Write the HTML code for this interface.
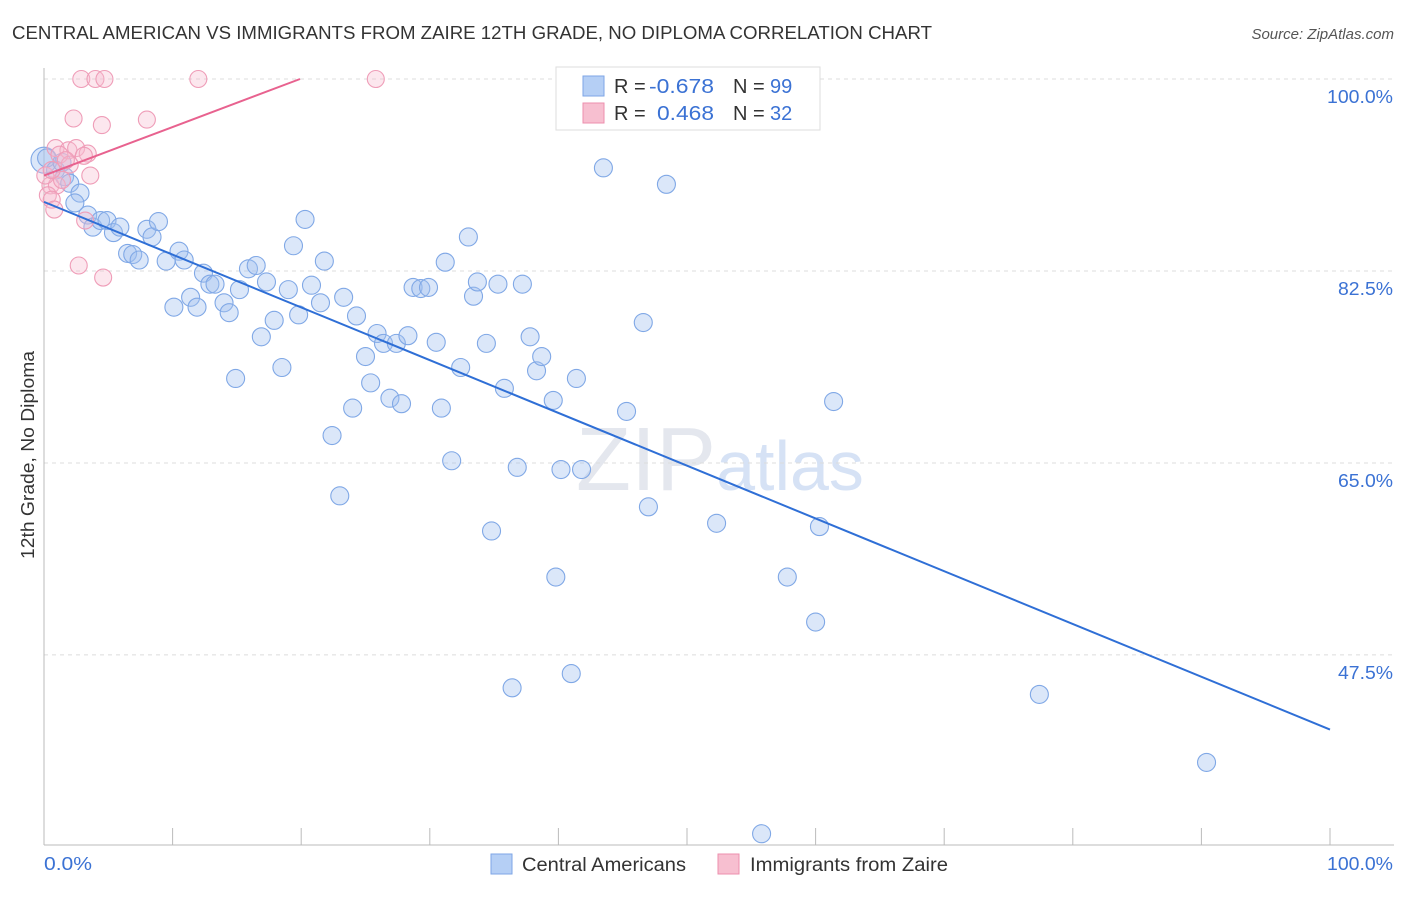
<!DOCTYPE html>
<html><head><meta charset="utf-8"><style>
body{margin:0;background:#fff;font-family:"Liberation Sans",sans-serif}
svg text{font-family:"Liberation Sans",sans-serif}
</style></head><body>
<svg id="chart" width="1406" height="892" xmlns="http://www.w3.org/2000/svg">
<text x="12" y="39" font-size="18" fill="#333" textLength="920" lengthAdjust="spacingAndGlyphs">CENTRAL AMERICAN VS IMMIGRANTS FROM ZAIRE 12TH GRADE, NO DIPLOMA CORRELATION CHART</text>
<text x="1394" y="39" font-size="15" fill="#555" text-anchor="end" font-style="italic">Source: ZipAtlas.com</text>
<text x="720" y="490" font-size="90" fill="#e4e7ee" text-anchor="middle" font-family="Liberation Serif">ZIP<tspan fill="#d6e2f5" font-family="Liberation Sans" font-size="70">atlas</tspan></text>
<g id="grid"></g>
<g id="axes"></g>
<g id="pts"></g>
<g id="lines"></g>
<text transform="translate(34,455) rotate(-90)" font-size="18" fill="#333" text-anchor="middle" textLength="208" lengthAdjust="spacingAndGlyphs">12th Grade, No Diploma</text>
<text x="44" y="870" font-size="18" fill="#3b72d4" textLength="48" lengthAdjust="spacingAndGlyphs">0.0%</text>
<text x="1327" y="870" font-size="18" fill="#3b72d4" textLength="66" lengthAdjust="spacingAndGlyphs">100.0%</text>
<g>
<rect x="556" y="67" width="264" height="63" fill="#fff" stroke="#ddd"/>
<rect x="583" y="76" width="21" height="20" fill="#b5cff5" stroke="#7ea6e6"/>
<rect x="583" y="103" width="21" height="20" fill="#f7bfd0" stroke="#ec8fae"/>
<text x="614" y="93" font-size="20" fill="#333">R = <tspan fill="#3b72d4" x="649" textLength="65" lengthAdjust="spacingAndGlyphs">-0.678</tspan><tspan x="733">N = </tspan><tspan fill="#3b72d4" x="770">99</tspan></text>
<text x="614" y="120" font-size="20" fill="#333">R = <tspan fill="#3b72d4" x="657" textLength="57" lengthAdjust="spacingAndGlyphs">0.468</tspan><tspan x="733">N = </tspan><tspan fill="#3b72d4" x="770">32</tspan></text>
</g>
<g>
<rect x="491" y="854" width="21" height="20" fill="#b5cff5" stroke="#7ea6e6"/>
<text x="522" y="871" font-size="19" fill="#333" textLength="164" lengthAdjust="spacingAndGlyphs">Central Americans</text>
<rect x="718" y="854" width="21" height="20" fill="#f7bfd0" stroke="#ec8fae"/>
<text x="750" y="871" font-size="19" fill="#333" textLength="198" lengthAdjust="spacingAndGlyphs">Immigrants from Zaire</text>
</g>
</svg>
<script>
const yTicks=[100,82.5,65,47.5];
const yTickLabels=["100.0%","82.5%","65.0%","47.5%"];
const xTicks=[0,10,20,30,40,50,60,70,80,90,100];
const blueX=[0,0.2,0.9,1.4,1.6,2.0,2.8,2.4,3.4,3.8,4.4,4.9,5.4,5.9,6.5,6.9,7.4,8.0,8.4,8.9,9.5,10.1,10.5,10.9,11.4,11.9,12.4,12.9,13.3,14.0,14.4,14.9,15.2,15.9,16.5,16.9,17.3,17.9,18.5,19.0,19.4,19.8,20.3,20.8,21.5,21.8,22.4,23.0,23.3,24.0,24.3,25.0,25.4,25.9,26.4,26.9,27.4,27.8,28.3,28.7,29.3,29.9,30.5,30.9,31.2,31.7,32.4,33.0,33.4,33.7,34.4,34.8,35.3,35.8,36.4,36.8,37.2,37.8,38.3,38.7,39.6,39.8,40.2,41.0,41.4,41.8,43.5,45.3,46.6,47.0,48.4,49.1,52.3,55.8,57.8,60.0,60.3,61.4,77.4,90.4];
const blueY=[92.6,92.8,91.7,92.4,91.1,90.5,89.6,88.7,87.6,86.5,87.1,87.1,86.0,86.5,84.1,84.0,83.5,86.3,85.6,87.0,83.4,79.2,84.3,83.5,80.1,79.2,82.3,81.3,81.3,79.6,78.7,72.7,80.8,82.7,83.0,76.5,81.5,78.0,73.7,80.8,84.8,78.5,87.2,81.2,79.6,83.4,67.5,62.0,80.1,70.0,78.4,74.7,72.3,76.8,75.9,70.9,75.9,70.4,76.6,81.0,80.9,81.0,76.0,70.0,83.3,65.2,73.7,85.6,80.2,81.5,75.9,58.8,81.3,71.8,44.5,64.6,81.3,76.5,73.4,74.7,70.7,54.6,64.4,45.8,72.7,64.4,91.9,69.7,77.8,61.0,90.4,100,59.5,31.2,54.6,50.5,59.2,70.6,43.9,37.7];
const pinkX=[2.9,4.0,4.7,12.0,25.8,2.3,4.5,8.0,0.9,1.9,2.5,3.4,1.2,3.1,2.0,3.6,0.5,1.0,0.3,0.6,0.8,3.2,2.7,4.6,1.4,0.1,1.7,0.6];
const pinkY=[100,100,100,100,100,96.4,95.8,96.3,93.7,93.5,93.7,93.2,93.1,93.0,92.2,91.2,90.3,90.3,89.4,89.0,88.1,87.1,83.0,81.9,90.8,91.2,92.6,91.7];
const blueTrend=[88.8,40.7];
const pinkTrend=[91.2,0.442];
const X0=44,X1=1330,Y100=79,PXY=10.97;
const sx=v=>X0+(X1-X0)*v/100;
const sy=v=>Y100+(100-v)*PXY;
const NS="http://www.w3.org/2000/svg";
function mk(tag,parent,attrs){const e=document.createElementNS(NS,tag);for(const k in attrs)e.setAttribute(k,attrs[k]);parent.appendChild(e);return e;}
const grid=document.getElementById('grid'),axes=document.getElementById('axes'),pts=document.getElementById('pts'),lines=document.getElementById('lines');
yTicks.forEach((t,i)=>{
 const l=mk('line',grid,{x1:X0,x2:1394,y1:sy(t),y2:sy(t),stroke:'#dcdcdc','stroke-dasharray':'4,4'});
 
 
 const tx=mk('text',grid,{x:1393,y:sy(t)+24,'font-size':18,fill:'#3b72d4','text-anchor':'end',textLength:yTickLabels[i].length*11,lengthAdjust:'spacingAndGlyphs'});
 tx.textContent=yTickLabels[i];
 
 
});
const ya=mk('line',axes,{x1:X0,x2:X0,y1:68,y2:845,stroke:'#bbb'});


const xa=mk('line',axes,{x1:X0,x2:1394,y1:845,y2:845,stroke:'#bbb'});


xTicks.forEach(t=>{
 const l=mk('line',axes,{x1:sx(t),x2:sx(t),y1:828,y2:845,stroke:'#bbb'});
 
 
});
blueX.forEach((x,i)=>{
 const c=mk('circle',pts,{cx:sx(x),cy:sy(blueY[i]),r:i==0?13:9,fill:'rgba(160,192,240,0.38)',stroke:'#80a8e6','stroke-width':1.1});
 
 
});
pinkX.forEach((x,i)=>{
 const c=mk('circle',pts,{cx:sx(x),cy:sy(pinkY[i]),r:8.5,fill:'rgba(247,185,205,0.35)',stroke:'#ef9db8','stroke-width':1.1});
 
 
});
const bl=mk('line',lines,{x1:sx(0),y1:sy(blueTrend[0]),x2:sx(100),y2:sy(blueTrend[1]),stroke:'#2f6fd6','stroke-width':2});


const pEnd=(100-pinkTrend[0])/pinkTrend[1];
const pl=mk('line',lines,{x1:sx(0),y1:sy(pinkTrend[0]),x2:sx(pEnd),y2:sy(100),stroke:'#e8628f','stroke-width':2});


</script>
</body></html>
